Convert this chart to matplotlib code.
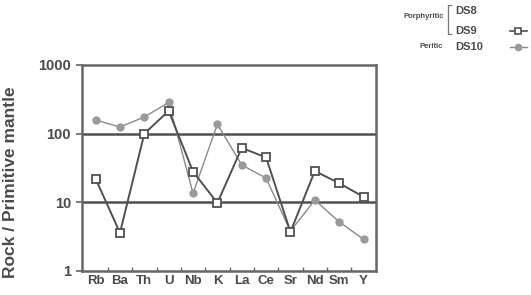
import numpy as np
import matplotlib
matplotlib.use("Agg")
import matplotlib.pyplot as plt
from matplotlib.lines import Line2D

plt.rcParams["font.family"] = ["Liberation Sans", "DejaVu Sans"]

# =========================
# DATA
# =========================

elements = ["Rb", "Ba", "Th", "U", "Nb", "K", "La", "Ce", "Sr", "Nd", "Sm", "Y"]

# DS9 (porphyritic) - open squares
ds9 = [22, 3.6, 100, 215, 28, 9.8, 62, 45, 3.7, 28.5, 19, 12]

# DS10 (peritic) - grey circles
ds10 = [158, 125, 175, 285, 13.5, 137, 35, 22.5, 3.8, 10.8, 5.2, 2.9]

yticks = [1, 10, 100, 1000]

DARK = "#505050"
LIGHT = "#8a8a8a"
TEXT = "#4a4a4a"


# =========================
# FIGURE
# =========================

fig = plt.figure(figsize=(5.31, 2.95), dpi=100)
ax = fig.add_axes([0.1544, 0.0814, 0.5531, 0.6983])

x = np.arange(len(elements))

ax.plot(x, ds10, color=LIGHT, lw=1.0, marker="o", ms=5,
        mfc="#9a9a9a", mec="#9a9a9a", zorder=3)
ax.plot(x, ds9, color=DARK, lw=1.4, marker="s", ms=5.5,
        mfc="white", mec=DARK, mew=1.3, zorder=4)

ax.set_yscale("log")
ax.set_ylim(1, 1000)
ax.set_xlim(-0.56, len(elements) - 0.5)

for v in [10, 100]:
    ax.axhline(v, color=DARK, lw=1.8, zorder=2)

for s in ax.spines.values():
    s.set_color("#666666")
    s.set_linewidth(1.8)

ax.set_yticks(yticks)
ax.set_yticklabels([str(v) for v in yticks], fontsize=10.5,
                   fontweight="bold", color=TEXT)
ax.yaxis.set_minor_locator(matplotlib.ticker.NullLocator())
ax.tick_params(axis="y", length=4, width=1.2, color="#666666", pad=4)

ax.set_xticks(x)
ax.set_xticklabels(elements, fontsize=9.5, fontweight="bold", color=TEXT)
ax.tick_params(axis="x", length=0, pad=3)
ax.set_xticks(x[:-1] + 0.5, minor=True)
ax.tick_params(axis="x", which="minor", direction="in", length=3,
               width=1.0, color="#666666")

ax.set_ylabel("Rock / Primitive mantle", fontsize=12.5, fontweight="bold",
              color=TEXT)
ax.yaxis.set_label_coords(-0.218, 0.432)


# =========================
# LEGEND (hand-made, top right)
# =========================

W, H = 531.0, 295.0


def fx(px):
    return px / W


def fy(py):
    return 1 - py / H


fig.text(fx(444), fy(17), "Porphyritic", ha="right", va="center",
         fontsize=5.5, fontweight="bold", color=TEXT)
fig.text(fx(443), fy(47), "Peritic", ha="right", va="center",
         fontsize=5.5, fontweight="bold", color=TEXT)
fig.text(fx(455), fy(11), "DS8", ha="left", va="center",
         fontsize=8, fontweight="bold", color=TEXT)
fig.text(fx(455), fy(31), "DS9", ha="left", va="center",
         fontsize=8, fontweight="bold", color=TEXT)
fig.text(fx(455), fy(47), "DS10", ha="left", va="center",
         fontsize=8, fontweight="bold", color=TEXT)

# bracket
fig.add_artist(Line2D([fx(451), fx(448), fx(448), fx(451)],
                      [fy(5), fy(5), fy(34), fy(34)],
                      color="#777777", lw=0.9))

fig.add_artist(Line2D([fx(510), fx(527)], [fy(31), fy(31)], color=DARK,
                      lw=1.2))
fig.add_artist(Line2D([fx(518)], [fy(31)], color=DARK, marker="s", ms=4.5,
                      mfc="white", mec=DARK, mew=1.2, ls="none"))
fig.add_artist(Line2D([fx(510), fx(527)], [fy(47), fy(47)], color=LIGHT,
                      lw=1.0))
fig.add_artist(Line2D([fx(518)], [fy(47)], color="#9a9a9a", marker="o",
                      ms=4.5, ls="none"))

fig.savefig("out.png", dpi=100)
